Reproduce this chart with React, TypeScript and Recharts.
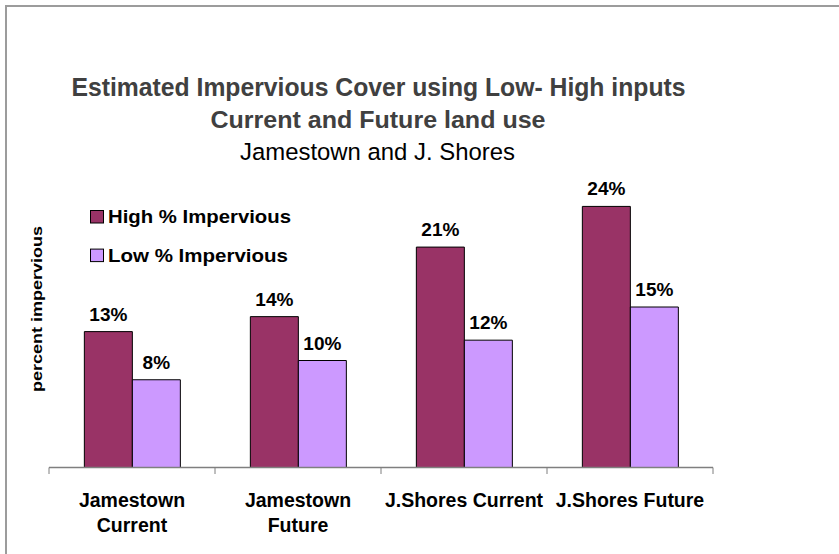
import React from "react";
import { BarChart, Bar, XAxis, YAxis, Legend, LabelList } from "recharts";

const categories = ["Jamestown Current", "Jamestown Future", "J.Shores Current", "J.Shores Future"];
const tickLines = [["Jamestown", "Current"], ["Jamestown", "Future"], ["J.Shores Current"], ["J.Shores Future"]];
const highValues = [12.7, 14.1, 20.6, 24.4];
const lowValues = [8.2, 10.0, 11.9, 15.0];
const seriesNames = ["High % Impervious", "Low % Impervious"];

const data = categories.map((name, i) => ({ name, high: highValues[i], low: lowValues[i] }));

const FONT = "'Liberation Sans', Arial, sans-serif";
const HIGH = "#993366";
const LOW = "#CC99FF";
const AXIS = "#7f7f7f";

const CatTick = (props: any) => {
  const { x, y, payload, index, visibleTicksCount } = props;
  const half = Number(payload?.offset) || 0;
  const lines = tickLines[index] ?? [payload.value];
  const isLast = index === (visibleTicksCount ?? categories.length) - 1;
  return (
    <g>
      <line x1={x - half} x2={x - half} y1={y} y2={y + 6.5} stroke={AXIS} strokeWidth={1} />
      {isLast && <line x1={x + half} x2={x + half} y1={y} y2={y + 6.5} stroke={AXIS} strokeWidth={1} />}
      <text x={x} y={y} textAnchor="middle" fontFamily={FONT} fontSize={19.5} fontWeight="bold" fill="#000">
        {lines.map((l: string, i: number) => (
          <tspan key={i} x={x} dy={i === 0 ? 39 : 25}>
            {l}
          </tspan>
        ))}
      </text>
    </g>
  );
};

const legendWidths = [183, 180];

const LegendContent = (props: any) => {
  const { payload } = props;
  return (
    <svg width={240} height={62} style={{ display: "block", overflow: "visible" }}>
      {(payload || []).map((p: any, i: number) => (
        <g key={i}>
          <rect x={1.5} y={2.5 + i * 38.6} width={13} height={12.5} fill={p.color} stroke="#000" strokeWidth={1} />
          <text
            x={19}
            y={15 + i * 38.6}
            fontFamily={FONT}
            fontSize={18.5}
            fontWeight="bold"
            fill="#000"
            textLength={legendWidths[i]}
            lengthAdjust="spacingAndGlyphs"
          >
            {p.value}
          </text>
        </g>
      ))}
    </svg>
  );
};

export default function App() {
  return (
    <div style={{ position: "absolute", left: 0, top: 0, width: 839, height: 554, background: "#fff", overflow: "hidden" }}>
      <div
        style={{
          position: "absolute",
          left: 5,
          top: 5,
          right: -10,
          bottom: -10,
          borderTop: "2px solid #9c9c9c",
          borderLeft: "2px solid #9c9c9c",
        }}
      />
      <div style={{ position: "absolute", left: 0, top: 0 }}>
        <BarChart
          width={839}
          height={554}
          data={data}
          margin={{ top: 146.5, right: 126, bottom: 26.5, left: 49 }}
          barCategoryGap="21.3%"
          barGap={0}
        >
          <XAxis
            dataKey="name"
            type="category"
            axisLine={{ stroke: AXIS, strokeWidth: 1.5 }}
            tickLine={false}
            tickSize={0}
            tickMargin={0}
            interval={0}
            height={60}
            tick={<CatTick />}
          />
          <YAxis hide domain={[0, 30]} />
          <Legend
            layout="vertical"
            align="center"
            verticalAlign="middle"
            wrapperStyle={{ left: 89, top: 208, width: 240, height: 62 }}
            content={<LegendContent />}
          />
          <Bar dataKey="high" name={seriesNames[0]} fill={HIGH} stroke="#000" strokeWidth={1} isAnimationActive={false}>
            <LabelList
              dataKey="high"
              position="top"
              offset={11}
              formatter={(v: any) => `${Math.round(Number(v))}%`}
              style={{ fontFamily: FONT, fontSize: 19, fontWeight: "bold", fill: "#000" }}
            />
          </Bar>
          <Bar dataKey="low" name={seriesNames[1]} fill={LOW} stroke="#000" strokeWidth={1} isAnimationActive={false}>
            <LabelList
              dataKey="low"
              position="top"
              offset={11}
              formatter={(v: any) => `${Math.round(Number(v))}%`}
              style={{ fontFamily: FONT, fontSize: 19, fontWeight: "bold", fill: "#000" }}
            />
          </Bar>
        </BarChart>
      </div>
      <svg width={839} height={554} style={{ position: "absolute", left: 0, top: 0, pointerEvents: "none" }}>
        <text x={378.5} y={96} textAnchor="middle" fontFamily={FONT} fontSize={25} fontWeight="bold" fill="#404040" textLength={614} lengthAdjust="spacingAndGlyphs">
          Estimated Impervious Cover using Low- High inputs
        </text>
        <text x={378} y={128} textAnchor="middle" fontFamily={FONT} fontSize={24.5} fontWeight="bold" fill="#404040" textLength={335} lengthAdjust="spacingAndGlyphs">
          Current and Future land use
        </text>
        <text x={377.5} y={160} textAnchor="middle" fontFamily={FONT} fontSize={24.5} fill="#000" textLength={275} lengthAdjust="spacingAndGlyphs">
          Jamestown and J. Shores
        </text>
        <text
          x={0}
          y={0}
          transform="translate(42, 309) rotate(-90)"
          textAnchor="middle"
          fontFamily={FONT}
          fontSize={15.5}
          fontWeight="bold"
          fill="#000"
          textLength={166}
          lengthAdjust="spacingAndGlyphs"
        >
          percent impervious
        </text>
      </svg>
    </div>
  );
}
